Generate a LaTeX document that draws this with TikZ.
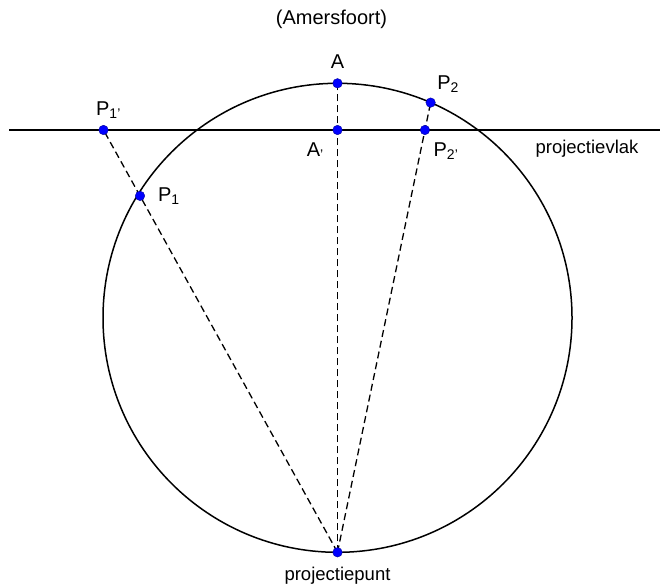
\documentclass[tikz,border=0pt]{standalone}
\usepackage{fontspec}
\setmainfont{Liberation Sans}
\usetikzlibrary{positioning, calc}
\tikzset{
  ptdot/.style={circle, fill=blue, draw=blue!60!black, line width=0.4pt,
                inner sep=0pt, minimum size=9.5pt},
  lbl/.style={font=\fontsize{20}{22}\selectfont, inner sep=1pt},
  bare/.style={font=\fontsize{18.5}{20}\selectfont, inner sep=1pt},
  proj/.style={dash pattern=on 7pt off 4pt, line width=1.3pt},
  plain/.style={line width=1.5pt},
}
\begin{document}
\begin{tikzpicture}[x=1pt, y=1pt]
  \useasboundingbox (0,0) rectangle (660,-585);

  % Sphere and projection plane
  \coordinate (C) at (337.5,-317.8);
  \draw[plain] (C) circle[radius=234.5];
  \coordinate (Lw) at (9,-130);
  \coordinate (Le) at (660,-130);
  \draw[plain] (Lw) -- (Le);

  % Points
  \coordinate (cS) at ($(C)+(-90:234.5)$);
  \coordinate (cA) at ($(C)+(90:234.5)$);
  \coordinate (cP2) at ($(C)+(66.6:234.5)$);
  \coordinate (cP1p) at (103.5,-130);
  \coordinate (cP1) at ($(cS)!0.844!(cP1p)$);
  \coordinate (cAp) at (intersection of cS--cA and Lw--Le);
  \coordinate (cP2p) at (intersection of cS--cP2 and Lw--Le);

  % Projection rays
  \draw[proj] (cS) -- (cP1p);
  \draw[proj] (cS) -- (cA);
  \draw[proj] (cS) -- (cP2);

  \node[ptdot] (S) at (cS) {};
  \node[ptdot] (A) at (cA) {};
  \node[ptdot] (Ap) at (cAp) {};
  \node[ptdot] (P1) at (cP1) {};
  \node[ptdot] (P1p) at (cP1p) {};
  \node[ptdot] (P2) at (cP2) {};
  \node[ptdot] (P2p) at (cP2p) {};

  % Labels
  \node[lbl] (title) at (331.5,-19) {(Amersfoort)};
  \node[lbl, above=9pt of A] (lA) {A};
  \node[lbl, above right=5pt and 2pt of P2] (lP2) {P\textsubscript{2}};
  \node[lbl, below left=8pt and 9pt of Ap] (lAp) {A\textsubscript{'}};
  \node[lbl, below right=8pt and 4pt of P2p] (lP2p) {P\textsubscript{2'}};
  \node[lbl, above=5pt of P1p, xshift=5pt] (lP1p) {P\textsubscript{1'}};
  \node[lbl, right=12pt of P1] (lP1) {P\textsubscript{1}};
  \node[bare, below=9pt of S] (lS) {projectiepunt};
  \node[bare] (lvlak) at (587,-149) {projectievlak};

\end{tikzpicture}
\end{document}
